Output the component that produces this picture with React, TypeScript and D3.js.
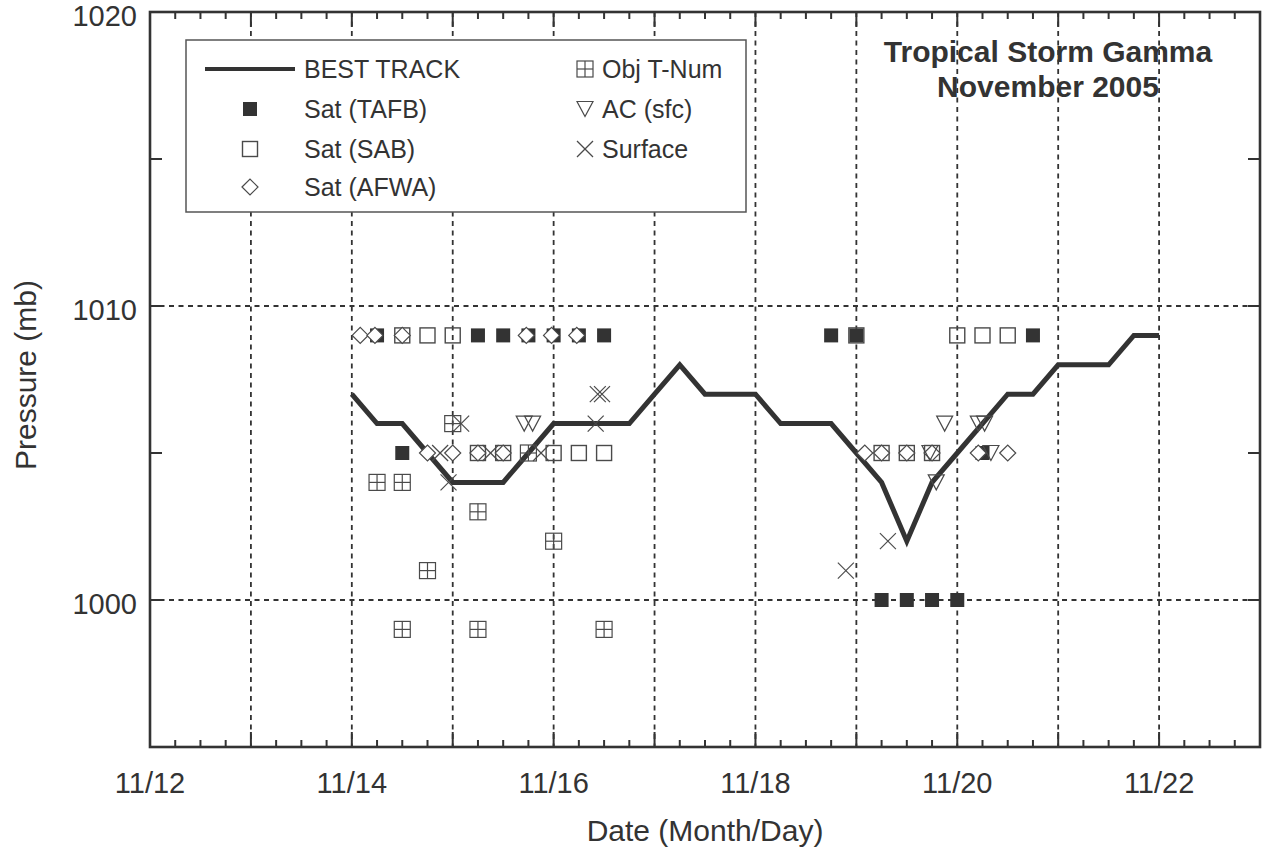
import React from "react";
import * as d3 from "d3";

// [day of November, hour UTC, pressure (mb)]
type Obs = [number, number, number];

const bestTrack: Obs[] = [
  [14, 0, 1007], [14, 6, 1006], [14, 12, 1006], [14, 18, 1005],
  [15, 0, 1004], [15, 6, 1004], [15, 12, 1004], [15, 18, 1005],
  [16, 0, 1006], [16, 6, 1006], [16, 12, 1006], [16, 18, 1006],
  [17, 0, 1007], [17, 6, 1008], [17, 12, 1007], [17, 18, 1007],
  [18, 0, 1007], [18, 6, 1006], [18, 12, 1006], [18, 18, 1006],
  [19, 0, 1005], [19, 6, 1004], [19, 12, 1002], [19, 18, 1004],
  [20, 0, 1005], [20, 6, 1006], [20, 12, 1007], [20, 18, 1007],
  [21, 0, 1008], [21, 6, 1008], [21, 12, 1008], [21, 18, 1009],
  [22, 0, 1009],
];

const satTafb: Obs[] = [
  [14, 6, 1009], [15, 6, 1009], [15, 12, 1009], [15, 18, 1009],
  [16, 0, 1009], [16, 6, 1009], [16, 12, 1009], [14, 12, 1005],
  [18, 18, 1009], [19, 0, 1009], [20, 18, 1009], [20, 6, 1005],
  [19, 6, 1000], [19, 12, 1000], [19, 18, 1000], [20, 0, 1000],
];

const satSab: Obs[] = [
  [14, 12, 1009], [14, 18, 1009], [15, 0, 1009], [19, 0, 1009],
  [20, 0, 1009], [20, 6, 1009], [20, 12, 1009],
  [15, 6, 1005], [15, 12, 1005], [16, 0, 1005], [16, 6, 1005], [16, 12, 1005],
  [19, 6, 1005], [19, 12, 1005], [19, 18, 1005],
];

const satAfwa: Obs[] = [
  [14, 2, 1009], [14, 5.5, 1009], [14, 12, 1009], [15, 17.5, 1009],
  [15, 23.5, 1009], [16, 5.5, 1009],
  [14, 18, 1005], [15, 0, 1005], [15, 6, 1005], [15, 12, 1005],
  [19, 2, 1005], [19, 6, 1005], [19, 12, 1005], [19, 18, 1005],
  [20, 5, 1005], [20, 12, 1005],
];

const objTNum: Obs[] = [
  [14, 6, 1004], [14, 12, 1004], [14, 12, 999], [14, 18, 1001],
  [15, 0, 1006], [15, 6, 1003], [15, 6, 999], [15, 18, 1005],
  [16, 0, 1002], [16, 12, 999],
];

const acSfc: Obs[] = [
  [15, 17, 1006], [15, 19, 1006], [19, 17.5, 1005], [19, 19, 1004],
  [19, 21, 1006], [20, 5, 1006], [20, 6.5, 1006], [20, 8, 1005],
];

const surface: Obs[] = [
  [14, 21, 1005], [14, 23, 1004], [15, 2, 1006], [15, 9, 1005],
  [15, 21, 1005], [16, 10, 1006], [16, 10.5, 1007], [16, 11.5, 1007],
  [18, 21.5, 1001], [19, 7.5, 1002],
];

const dayTicks = d3.range(12, 24);
const labelDays = [12, 14, 16, 18, 20, 22];
const minorDayTicks = d3.range(12, 23.01, 0.25);
const pressureTicks = [995, 1000, 1005, 1010, 1015, 1020];
const pressureLabels = [1000, 1010, 1020];
const gridPressures = [1000, 1010, 1020];

const titleLines = ["Tropical Storm Gamma", "November 2005"];

const INK = "#333";
const MARK = "#4a4a4a";
const FONT = "Helvetica, 'Liberation Sans', Arial, sans-serif";

const t = (d: Obs) => d[0] + d[1] / 24;

const x = d3.scaleLinear().domain([12, 23]).range([150, 1260]);
const y = d3.scaleLinear().domain([995, 1020]).range([747, 12]);

const FilledSq = ({ cx, cy }: { cx: number; cy: number }) => (
  <rect x={cx - 7} y={cy - 7} width={14} height={14} fill={INK} />
);
const OpenSq = ({ cx, cy }: { cx: number; cy: number }) => (
  <rect x={cx - 7.5} y={cy - 7.5} width={15} height={15} fill="none" stroke={MARK} strokeWidth={1.4} />
);
const Diamond = ({ cx, cy }: { cx: number; cy: number }) => (
  <path
    d={`M${cx - 8},${cy}L${cx},${cy - 8}L${cx + 8},${cy}L${cx},${cy + 8}Z`}
    fill="#fff"
    stroke={MARK}
    strokeWidth={1.2}
  />
);
const GridSq = ({ cx, cy }: { cx: number; cy: number }) => (
  <g fill="none" stroke={MARK} strokeWidth={1.2}>
    <rect x={cx - 8} y={cy - 8} width={16} height={16} />
    <line x1={cx} x2={cx} y1={cy - 8} y2={cy + 8} />
    <line x1={cx - 8} x2={cx + 8} y1={cy} y2={cy} />
  </g>
);
const TriDown = ({ cx, cy }: { cx: number; cy: number }) => (
  <path
    d={`M${cx - 8},${cy - 7.5}L${cx + 8},${cy - 7.5}L${cx},${cy + 7.5}Z`}
    fill="none"
    stroke={MARK}
    strokeWidth={1.2}
  />
);
const Cross = ({ cx, cy }: { cx: number; cy: number }) => (
  <g stroke={MARK} strokeWidth={1.2}>
    <line x1={cx - 8} x2={cx + 8} y1={cy - 8} y2={cy + 8} />
    <line x1={cx - 8} x2={cx + 8} y1={cy + 8} y2={cy - 8} />
  </g>
);

const series: { label: string; data: Obs[]; Mark: React.FC<{ cx: number; cy: number }> }[] = [
  { label: "Sat (TAFB)", data: satTafb, Mark: FilledSq },
  { label: "Sat (SAB)", data: satSab, Mark: OpenSq },
  { label: "Sat (AFWA)", data: satAfwa, Mark: Diamond },
  { label: "Obj T-Num", data: objTNum, Mark: GridSq },
  { label: "AC (sfc)", data: acSfc, Mark: TriDown },
  { label: "Surface", data: surface, Mark: Cross },
];

export default function App() {
  const [x0, x1] = x.range();
  const [yb, yt] = y.range();

  const line = d3
    .line<Obs>()
    .x((d) => x(t(d)))
    .y((d) => y(d[2]));

  // legend layout
  const lg = { x: 186, y: 40, w: 560, h: 172 };
  const rowY = [69, 109, 149, 187];
  const leftCol = [series[0], series[1], series[2]];
  const rightCol = [series[3], series[4], series[5]];

  return (
    <svg
      width={1263}
      height={867}
      style={{ position: "absolute", left: 0, top: 0, background: "#fff" }}
      fontFamily={FONT}
    >
      {/* grid */}
      <g stroke={INK} strokeWidth={1.8} strokeDasharray="5,4.5">
        {dayTicks.map((d) => (
          <line key={"gx" + d} x1={x(d)} x2={x(d)} y1={yt} y2={yb} />
        ))}
        {gridPressures.map((p) => (
          <line key={"gy" + p} x1={x0} x2={x1} y1={y(p)} y2={y(p)} />
        ))}
      </g>

      {/* ticks */}
      <g stroke={INK} strokeWidth={2}>
        {minorDayTicks.map((d) => {
          const major = Math.abs(d - Math.round(d)) < 1e-6;
          const len = major ? 15 : 7;
          return (
            <g key={"tx" + d}>
              <line x1={x(d)} x2={x(d)} y1={yb} y2={yb - len} />
              <line x1={x(d)} x2={x(d)} y1={yt} y2={yt + len} />
            </g>
          );
        })}
        {pressureTicks.map((p) => (
          <g key={"ty" + p}>
            <line x1={x0} x2={x0 + 12} y1={y(p)} y2={y(p)} />
            <line x1={x1} x2={x1 - 12} y1={y(p)} y2={y(p)} />
          </g>
        ))}
      </g>

      {/* frame */}
      <rect x={x0} y={yt} width={x1 - x0} height={yb - yt} fill="none" stroke={INK} strokeWidth={2.6} />

      {/* tick labels */}
      <g fill={INK} fontSize={29}>
        {labelDays.map((d) => (
          <text key={"lx" + d} x={x(d)} y={793} textAnchor="middle">
            {`11/${d}`}
          </text>
        ))}
        {pressureLabels.map((p) => (
          <text key={"ly" + p} x={137} y={y(p) + 14} textAnchor="end">
            {p}
          </text>
        ))}
      </g>

      {/* axis titles */}
      <text x={(x0 + x1) / 2} y={841} textAnchor="middle" fontSize={30} fill={INK}>
        Date (Month/Day)
      </text>
      <text
        transform={`translate(36, 375) rotate(-90)`}
        textAnchor="middle"
        fontSize={30}
        fill={INK}
      >
        Pressure (mb)
      </text>

      {/* best track */}
      <path d={line(bestTrack) ?? ""} fill="none" stroke={INK} strokeWidth={5} strokeLinejoin="miter" />

      {/* observations */}
      {series.map(({ label, data, Mark }) => (
        <g key={label}>
          {data.map((d, i) => (
            <Mark key={i} cx={x(t(d))} cy={y(d[2])} />
          ))}
        </g>
      ))}

      {/* title */}
      <g fill={INK} fontSize={30} fontWeight="bold" textAnchor="middle">
        {titleLines.map((s, i) => (
          <text key={s} x={1048} y={62 + i * 35}>
            {s}
          </text>
        ))}
      </g>

      {/* legend */}
      <g>
        <rect x={lg.x} y={lg.y} width={lg.w} height={lg.h} fill="#fff" stroke="#555" strokeWidth={1.5} />
        <line x1={205} x2={295} y1={rowY[0]} y2={rowY[0]} stroke={INK} strokeWidth={4} />
        <text x={304} y={rowY[0] + 9} fontSize={25} fill={INK}>
          BEST TRACK
        </text>
        {leftCol.map(({ label, Mark }, i) => (
          <g key={label}>
            <Mark cx={250} cy={rowY[i + 1]} />
            <text x={304} y={rowY[i + 1] + 9} fontSize={25} fill={INK}>
              {label}
            </text>
          </g>
        ))}
        {rightCol.map(({ label, Mark }, i) => (
          <g key={label}>
            <Mark cx={585} cy={rowY[i]} />
            <text x={602} y={rowY[i] + 9} fontSize={25} fill={INK}>
              {label}
            </text>
          </g>
        ))}
      </g>
    </svg>
  );
}
